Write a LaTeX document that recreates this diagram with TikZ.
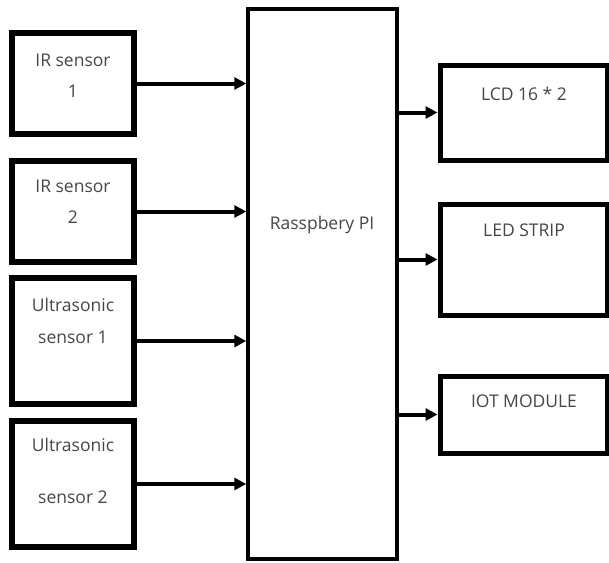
\documentclass[tikz,border=0pt]{standalone}
\usepackage{fontspec}
\setmainfont{Open Sans}
\usetikzlibrary{arrows,arrows.meta}
\definecolor{txtgray}{RGB}{70,70,70}

\begin{document}
\begin{tikzpicture}[x=1pt,y=-1pt,
  inbox/.style={draw=black,line width=5.5pt,inner sep=0pt,minimum width=122pt},
  outbox/.style={draw=black,line width=5pt,inner sep=0pt,minimum width=167pt},
  txt/.style={text=txtgray,anchor=base,inner sep=0pt,font=\fontsize{17.5}{20}\selectfont},
  arr/.style={-{Triangle[length=12pt,width=12pt]},line width=4pt}]
\useasboundingbox (0,0) rectangle (609,562);

% sensors
\node[inbox,minimum height=101pt] (ir1) at (73,83.5) {};
\node[inbox,minimum height=101pt] (ir2) at (73,211.5) {};
\node[inbox,minimum height=126pt] (us1) at (73,341) {};
\node[inbox,minimum height=126pt] (us2) at (73,484) {};

% controller
\node[draw=black,line width=3.5pt,inner sep=0pt,minimum width=149pt,minimum height=550pt] (pi) at (322.5,284) {};

% outputs
\node[outbox,minimum height=95pt] (lcd) at (523.5,112.5) {};
\node[outbox,minimum height=111pt] (led) at (523.5,259.5) {};
\node[outbox,minimum height=77pt] (iot) at (523.5,414.5) {};

\begin{scope}
\node[txt] (ir1a) at (73,66) {IR sensor};
\node[txt] (ir1b) at (73,97) {1};
\node[txt] (ir2a) at (73,192) {IR sensor};
\node[txt] (ir2b) at (73,223) {2};
\node[txt] (us1a) at (73,311) {Ultrasonic};
\node[txt] (us1b) at (73,343) {sensor 1};
\node[txt] (us2a) at (73,451) {Ultrasonic};
\node[txt] (us2b) at (73,503) {sensor 2};
\node[txt] (pitxt) at (322,229) {Rasspbery PI};
\node[txt] (lcdtxt) at (524,100) {LCD 16 * 2};
\node[txt] (ledtxt) at (524,236) {LED STRIP};
\node[txt] (iottxt) at (524,407) {IOT MODULE};
\end{scope}

\draw[arr] (ir1.east) -- (ir1.east -| pi.west);
\draw[arr] (ir2.east) -- (ir2.east -| pi.west);
\draw[arr] (us1.east) -- (us1.east -| pi.west);
\draw[arr] (us2.east) -- (us2.east -| pi.west);

\draw[arr] (pi.east |- lcd.west) -- (lcd.west);
\draw[arr] (pi.east |- led.west) -- (led.west);
\draw[arr] (pi.east |- iot.west) -- (iot.west);
\end{tikzpicture}
\end{document}
